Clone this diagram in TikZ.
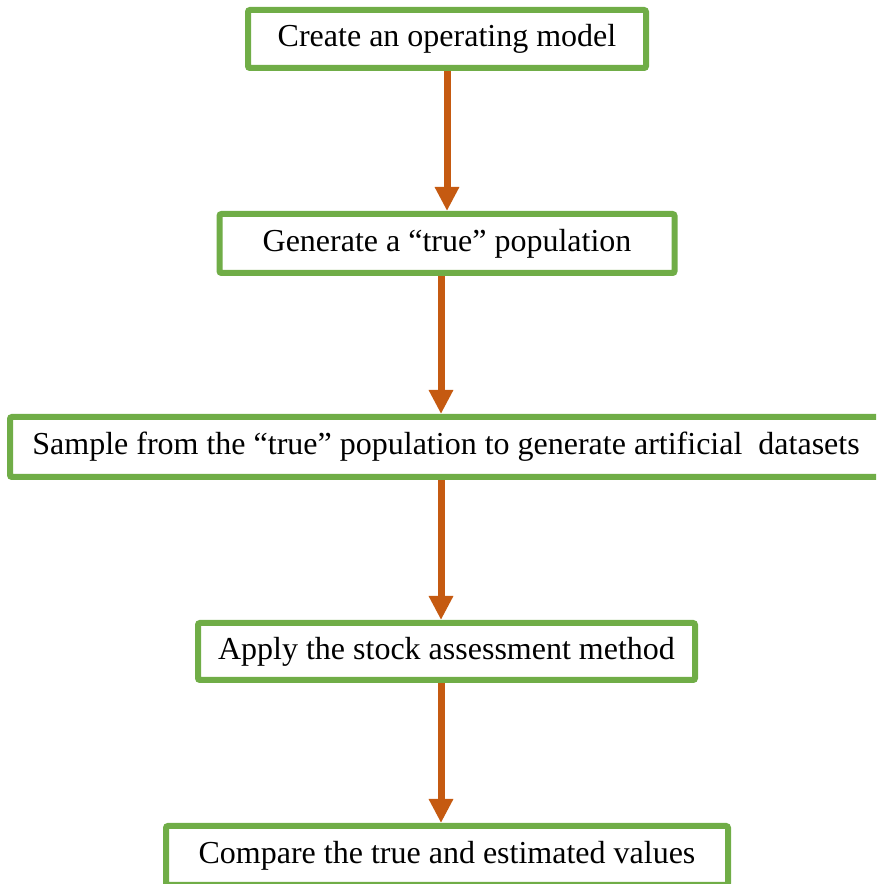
\documentclass[tikz,border=0pt]{standalone}
\usepackage{fontspec}
\setmainfont{Liberation Serif}
\usetikzlibrary{arrows.meta}
\definecolor{boxgreen}{HTML}{70AD47}
\definecolor{arrorange}{HTML}{C55A11}
\begin{document}
\begin{tikzpicture}[x=1pt,y=1pt,
  box/.style={draw=boxgreen, line width=6pt, rounded corners=2pt, fill=white, inner sep=0pt, font=\fontsize{32}{38}\selectfont, anchor=center},
  arr/.style={draw=arrorange, line width=7pt, -{Triangle[width=23pt,length=24pt]}}]
\useasboundingbox (0,0) rectangle (876,884);
\clip (0,0) rectangle (876,884);
\node[box, minimum width=398pt, minimum height=58pt] (b1) at (447,845) {Create an operating model};
\node[box, minimum width=455pt, minimum height=59pt] (b2) at (447,640.5) {Generate a “true” population};
\node[box, minimum width=872pt, minimum height=60pt] (b3) at (446,437) {Sample from the “true” population to generate artificial~~datasets};
\node[box, minimum width=497pt, minimum height=57pt] (b4) at (446.5,232.5) {Apply the stock assessment method};
\node[box, minimum width=562pt, minimum height=59pt] (b5) at (447,28.5) {Compare the true and estimated values};
\coordinate (a1) at (b1.south);
\coordinate (a2) at ([xshift=-6pt]b2.south);
\coordinate (a3) at ([xshift=-5pt]b3.south);
\coordinate (a4) at ([xshift=-5.5pt]b4.south);
\draw[arr] (a1) -- (a1 |- b2.north);
\draw[arr] (a2) -- (a2 |- b3.north);
\draw[arr] (a3) -- (a3 |- b4.north);
\draw[arr] (a4) -- (a4 |- b5.north);
\end{tikzpicture}
\end{document}
